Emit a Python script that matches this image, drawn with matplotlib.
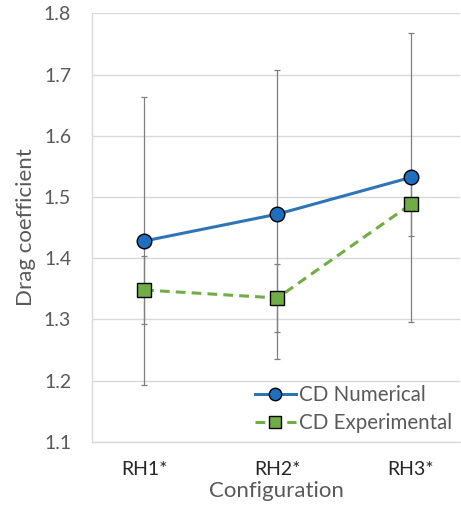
import numpy as np
import matplotlib.pyplot as plt

# ── Data ──────────────────────────────────────────────────────────────────────
CONFIGS = ['RH1*', 'RH2*', 'RH3*']
CD_NUM = [1.428, 1.472, 1.532]
CD_NUM_ERR = [0.235, 0.236, 0.236]
CD_EXP = [1.348, 1.335, 1.488]
CD_EXP_ERR = [0.055, 0.056, 0.052]

plt.rcParams['font.family'] = ['Lato', 'DejaVu Sans']

fig = plt.figure(figsize=(4.61, 5.15), dpi=100)
ax = fig.add_axes([0.1996, 0.1423, 0.7984, 0.8315])

x = np.arange(len(CONFIGS))

ax.errorbar(x, CD_NUM, yerr=CD_NUM_ERR, fmt='none', ecolor='#7f7f7f',
            elinewidth=0.9, capsize=2.5, capthick=0.9, zorder=3)
ax.errorbar(x, CD_EXP, yerr=CD_EXP_ERR, fmt='none', ecolor='#7f7f7f',
            elinewidth=0.9, capsize=2.5, capthick=0.9, zorder=3)

ax.plot(x, CD_NUM, color='#2E75B6', lw=2.2, marker='o', ms=10.5,
        mfc='#1F6FC0', mec='black', mew=1.0, label='CD Numerical', zorder=5)
ax.plot(x, CD_EXP, color='#70AD47', lw=2.2, ls=(0, (3.2, 2.0)), marker='s', ms=10.5,
        mfc='#70AD47', mec='black', mew=1.0, label='CD Experimental', zorder=4)

ax.set_xlim(-0.39, 2.37)
ax.set_ylim(1.1, 1.8)
ax.set_yticks(np.arange(1.1, 1.81, 0.1))
ax.set_yticklabels([f'{v:.1f}' for v in np.arange(1.1, 1.81, 0.1)])
ax.set_xticks(x)
ax.set_xticklabels(CONFIGS)

ax.grid(axis='y', color='#d9d9d9', lw=1.0, zorder=0)
ax.set_axisbelow(True)
for s in ['top', 'right']:
    ax.spines[s].set_visible(False)
for s in ['left', 'bottom']:
    ax.spines[s].set_color('#d9d9d9')
    ax.spines[s].set_linewidth(1.0)

ax.tick_params(axis='both', length=0, labelsize=14, colors='#595959')
ax.tick_params(axis='x', pad=14, labelcolor='#262626')
ax.tick_params(axis='y', pad=15)

ax.set_xlabel('Configuration', fontsize=16, color='#595959', labelpad=2)
ax.set_ylabel('Drag coefficient', fontsize=16, color='#595959', labelpad=6)

leg = ax.legend(loc='lower right', bbox_to_anchor=(1.0, 0.0), fontsize=14.8,
                frameon=False, handlelength=2.0, handletextpad=0.15,
                labelspacing=0.4, borderpad=0.3, borderaxespad=0.1,
                markerscale=0.85)
for t in leg.get_texts():
    t.set_color('#595959')
leg.set_zorder(6)

plt.savefig('out.png', dpi=100)
plt.close()
